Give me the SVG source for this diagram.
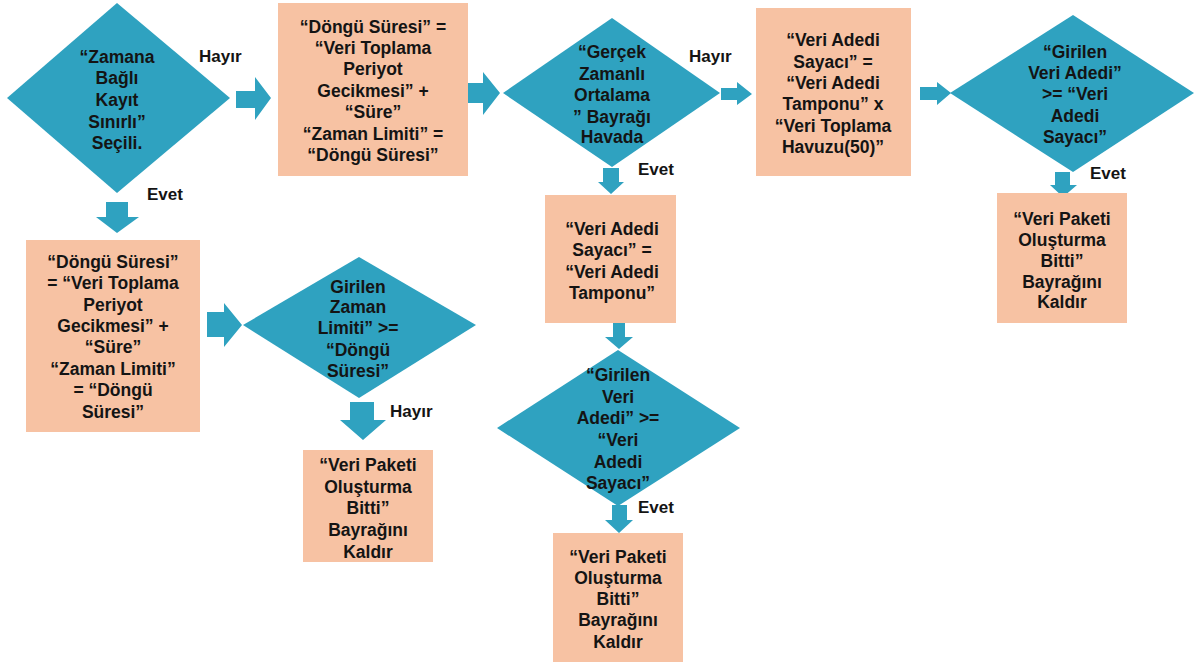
<svg xmlns="http://www.w3.org/2000/svg" width="1195" height="668" viewBox="0 0 1195 668">
<style>
.d{fill:#2FA2C0}
.b{fill:#F7C2A3}
.a{fill:#2FA2C0}
text{font-family:"Liberation Sans",Arial,sans-serif;font-weight:bold;font-size:17.5px;fill:#141414;text-anchor:middle}
text.l{text-anchor:start;font-size:17px}
</style>
<rect width="1195" height="668" fill="#ffffff"/>
<g id="connectors">
<polygon class="a" points="236,91 255,91 255,77 271,98 255,120 255,108 236,108"/>
<polygon class="a" points="468,83 483,83 483,72 500,93 483,115 483,103 468,103"/>
<polygon class="a" points="721,88 737,88 737,82 752,94 737,105 737,100 721,100"/>
<polygon class="a" points="920,87 937,87 937,82 951,93 937,105 937,100 920,100"/>
<polygon class="a" points="106,202 128,202 128,217 139,217 117,233 96,217 106,217"/>
<polygon class="a" points="207,312 224,312 224,303 242,325 224,347 224,337 207,337"/>
<polygon class="a" points="350,402 374,402 374,420 386,420 363,440 340,420 350,420"/>
<polygon class="a" points="603,168 619,168 619,182 624,182 611,194 598,182 603,182"/>
<polygon class="a" points="613,323 625,323 625,337 633,337 619,349 605,337 613,337"/>
<polygon class="a" points="612,505 627,505 627,520 633,520 619,533 605,520 612,520"/>
<polygon class="a" points="1055,172 1070,172 1070,185 1077,185 1063,197 1050,185 1055,185"/>
<text class="l" x="199" y="62">Hayır</text>
<text class="l" x="147" y="200">Evet</text>
<text class="l" x="689" y="62">Hayır</text>
<text class="l" x="638" y="175">Evet</text>
<text class="l" x="390" y="417">Hayır</text>
<text class="l" x="638" y="513">Evet</text>
<text class="l" x="1090" y="179">Evet</text>
</g>
<g id="n1">
<polygon class="d" points="117,3 230,98 117,193 7,98"/>
<text x="117" y="63">“Zamana</text>
<text x="117" y="84">Bağlı</text>
<text x="117" y="106">Kayıt</text>
<text x="117" y="128">Sınırlı”</text>
<text x="117" y="149">Seçili.</text>
</g>
<g id="n2">
<rect class="b" x="278" y="3" width="190" height="173"/>
<text x="373" y="33">“Döngü Süresi” =</text>
<text x="373" y="54">“Veri Toplama</text>
<text x="373" y="75">Periyot</text>
<text x="373" y="97">Gecikmesi” +</text>
<text x="373" y="118">“Süre”</text>
<text x="373" y="140">“Zaman Limiti” =</text>
<text x="373" y="161">“Döngü Süresi”</text>
</g>
<g id="n3">
<polygon class="d" points="612,18 720,93 612,167 503,93"/>
<text x="612" y="58">“Gerçek</text>
<text x="612" y="80">Zamanlı</text>
<text x="612" y="101">Ortalama</text>
<text x="612" y="123">” Bayrağı</text>
<text x="612" y="143">Havada</text>
</g>
<g id="n4">
<rect class="b" x="756" y="8" width="155" height="168"/>
<text x="833" y="46">“Veri Adedi</text>
<text x="833" y="68">Sayacı” =</text>
<text x="833" y="89">“Veri Adedi</text>
<text x="833" y="110">Tamponu” x</text>
<text x="833" y="132">“Veri Toplama</text>
<text x="833" y="153">Havuzu(50)”</text>
</g>
<g id="n5">
<polygon class="d" points="1073,15 1194,93 1073,172 950,93"/>
<text x="1075" y="58">“Girilen</text>
<text x="1075" y="79">Veri Adedi”</text>
<text x="1075" y="100">&gt;= “Veri</text>
<text x="1075" y="122">Adedi</text>
<text x="1075" y="143">Sayacı”</text>
</g>
<g id="n6">
<rect class="b" x="26" y="240" width="174" height="192"/>
<text x="113" y="268">“Döngü Süresi”</text>
<text x="113" y="289">= “Veri Toplama</text>
<text x="113" y="311">Periyot</text>
<text x="113" y="332">Gecikmesi” +</text>
<text x="113" y="353">“Süre”</text>
<text x="113" y="375">“Zaman Limiti”</text>
<text x="113" y="396">= “Döngü</text>
<text x="113" y="418">Süresi”</text>
</g>
<g id="n7">
<polygon class="d" points="359,257 476,325 359,398 243,325"/>
<text x="358" y="293">Girilen</text>
<text x="358" y="313">Zaman</text>
<text x="358" y="334">Limiti” &gt;=</text>
<text x="358" y="356">“Döngü</text>
<text x="358" y="377">Süresi”</text>
</g>
<g id="n8">
<rect class="b" x="303" y="450" width="130" height="112"/>
<text x="368" y="471">“Veri Paketi</text>
<text x="368" y="493">Oluşturma</text>
<text x="368" y="514">Bitti”</text>
<text x="368" y="536">Bayrağını</text>
<text x="368" y="558">Kaldır</text>
</g>
<g id="n9">
<rect class="b" x="545" y="195" width="131" height="128"/>
<text x="612" y="235">“Veri Adedi</text>
<text x="612" y="256">Sayacı” =</text>
<text x="612" y="278">“Veri Adedi</text>
<text x="612" y="299">Tamponu”</text>
</g>
<g id="n10">
<polygon class="d" points="618,350 740,428 618,506 497,428"/>
<text x="618" y="381">“Girilen</text>
<text x="618" y="403">Veri</text>
<text x="618" y="424">Adedi” &gt;=</text>
<text x="618" y="446">“Veri</text>
<text x="618" y="468">Adedi</text>
<text x="618" y="489">Sayacı”</text>
</g>
<g id="n11">
<rect class="b" x="553" y="533" width="130" height="129"/>
<text x="618" y="563">“Veri Paketi</text>
<text x="618" y="584">Oluşturma</text>
<text x="618" y="605">Bitti”</text>
<text x="618" y="626">Bayrağını</text>
<text x="618" y="648">Kaldır</text>
</g>
<g id="n12">
<rect class="b" x="997" y="193" width="130" height="130"/>
<text x="1062" y="225">“Veri Paketi</text>
<text x="1062" y="246">Oluşturma</text>
<text x="1062" y="267">Bitti”</text>
<text x="1062" y="288">Bayrağını</text>
<text x="1062" y="308">Kaldır</text>
</g>
</svg>
